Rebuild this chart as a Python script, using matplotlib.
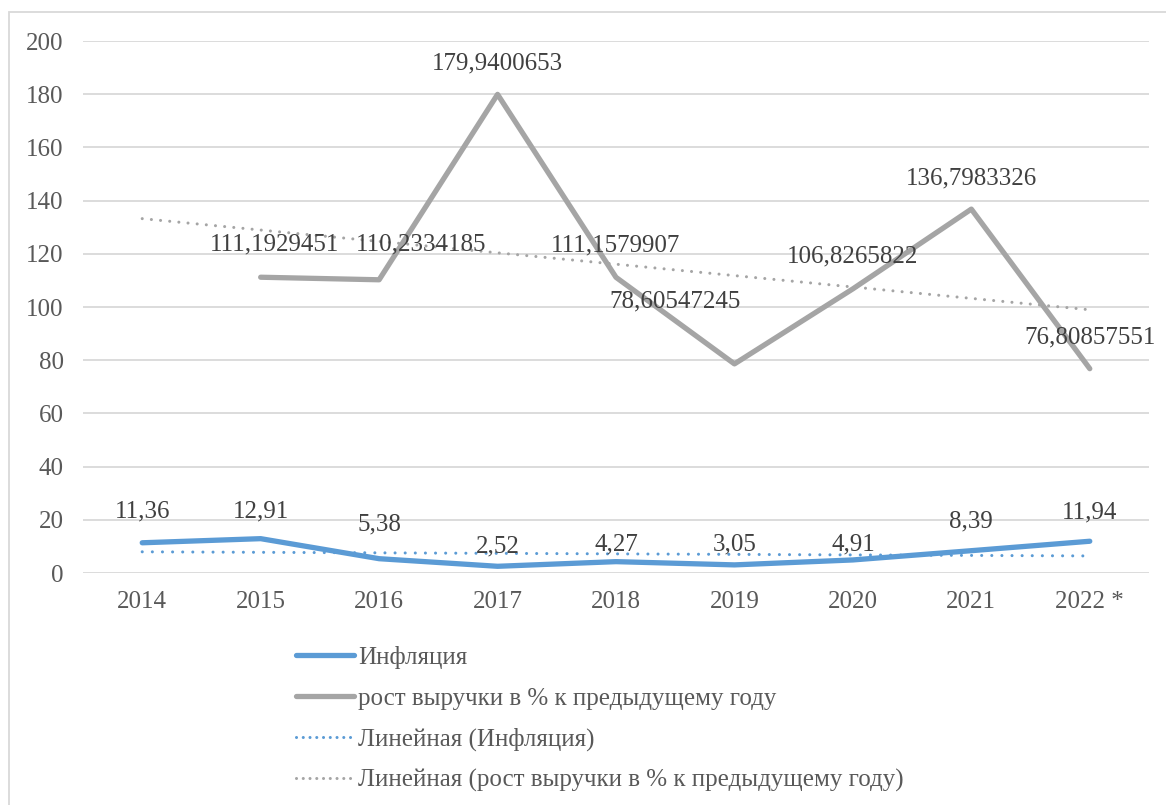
import matplotlib.pyplot as plt
from matplotlib.lines import Line2D
from matplotlib.patches import Rectangle
import numpy as np

plt.rcParams['font.family'] = ['Liberation Serif', 'DejaVu Serif']

years = ['2014', '2015', '2016', '2017', '2018', '2019', '2020', '2021', '2022 *']
inflation = [11.36, 12.91, 5.38, 2.52, 4.27, 3.05, 4.91, 8.39, 11.94]
revenue_growth = [np.nan, 111.1929451, 110.2334185, 179.9400653, 111.1579907,
                  78.60547245, 106.8265822, 136.7983326, 76.80857551]

# label offsets in pixels (dx, dy) - some labels were moved by hand in the original
infl_offsets = [(0, 31), (0, 27), (0, 34), (0, 20), (0, 17), (0, 20), (0, 15), (0, 29), (0, 29)]
rev_offsets = [None, (14, 33), (42, 35), (0, 31), (0, 32), (-59, 62), (0, 32), (0, 31), (0, 31)]

BLUE = '#5B9BD5'
GRAY = '#A5A5A5'
TEXT = '#595959'
LABEL = '#404040'
FS = 18

W, H = 1166, 805
fig = plt.figure(figsize=(W / 100, H / 100), dpi=100)
ax = fig.add_axes([83 / W, 1 - 573 / H, (1149 - 83) / W, (573 - 41) / H])

x = np.arange(len(years))

# linear trend lines (like excel trendlines)
k1, b1 = np.polyfit(x, inflation, 1)
rv = np.array(revenue_growth)
ok = ~np.isnan(rv)
k2, b2 = np.polyfit(x[ok], rv[ok], 1)

ax.plot(x, k1 * x + b1, color=BLUE, lw=2.2, linestyle=(0, (0.01, 3.3)),
        dash_capstyle='round', zorder=3)
ax.plot(x, k2 * x + b2, color=GRAY, lw=2.2, linestyle=(0, (0.01, 3.0)),
        dash_capstyle='round', zorder=3)
ax.plot(x, inflation, color=BLUE, lw=3.8, solid_capstyle='round', solid_joinstyle='round', zorder=4)
ax.plot(x, revenue_growth, color=GRAY, lw=3.8, solid_capstyle='round', solid_joinstyle='round', zorder=4)

for i, v in enumerate(inflation):
    dx, dy = infl_offsets[i]
    ax.annotate(str(v).replace('.', ','), (x[i], v), xytext=(dx * 0.72, dy * 0.72),
                textcoords='offset points', ha='center', va='center',
                fontsize=FS, color=LABEL, zorder=5)
for i, v in enumerate(revenue_growth):
    if np.isnan(v):
        continue
    dx, dy = rev_offsets[i]
    ax.annotate(str(v).replace('.', ','), (x[i], v), xytext=(dx * 0.72, dy * 0.72),
                textcoords='offset points', ha='center', va='center',
                fontsize=FS, color=LABEL, zorder=5)

ax.set_xlim(-0.5, len(years) - 0.5)
ax.set_ylim(0, 200)
ax.set_yticks(range(0, 201, 20))
ax.set_xticks(x)
ax.set_xticklabels(years)
ax.grid(axis='y', color='#D9D9D9', lw=1.3)
ax.set_axisbelow(True)
for s in ax.spines.values():
    s.set_visible(False)
ax.tick_params(length=0, labelsize=FS, colors=TEXT)
ax.tick_params(axis='y', pad=14)
ax.tick_params(axis='x', pad=13)

handles = [
    Line2D([], [], color=BLUE, lw=3.8, solid_capstyle='round'),
    Line2D([], [], color=GRAY, lw=3.8, solid_capstyle='round'),
    Line2D([], [], color=BLUE, lw=2.2, linestyle=(0, (0.01, 2.2)), dash_capstyle='round'),
    Line2D([], [], color=GRAY, lw=2.2, linestyle=(0, (0.01, 2.2)), dash_capstyle='round'),
]
names = ['Инфляция', 'рост выручки в % к предыдущему году',
         'Линейная (Инфляция)', 'Линейная (рост выручки в % к предыдущему году)']
leg = fig.legend(handles, names, loc='upper left', bbox_to_anchor=(296 / W, 1 - 646 / H),
                 frameon=False, fontsize=FS, handlelength=2.3, handletextpad=0.2,
                 labelspacing=0.72, borderaxespad=0, borderpad=0)
for t in leg.get_texts():
    t.set_color(TEXT)

fig.patches.append(Rectangle((9 / W, -0.02), 1.0, 1 - 12 / H + 0.02, transform=fig.transFigure,
                             fill=False, edgecolor='#D9D9D9', lw=1.3))

fig.savefig('out.png', dpi=100)
